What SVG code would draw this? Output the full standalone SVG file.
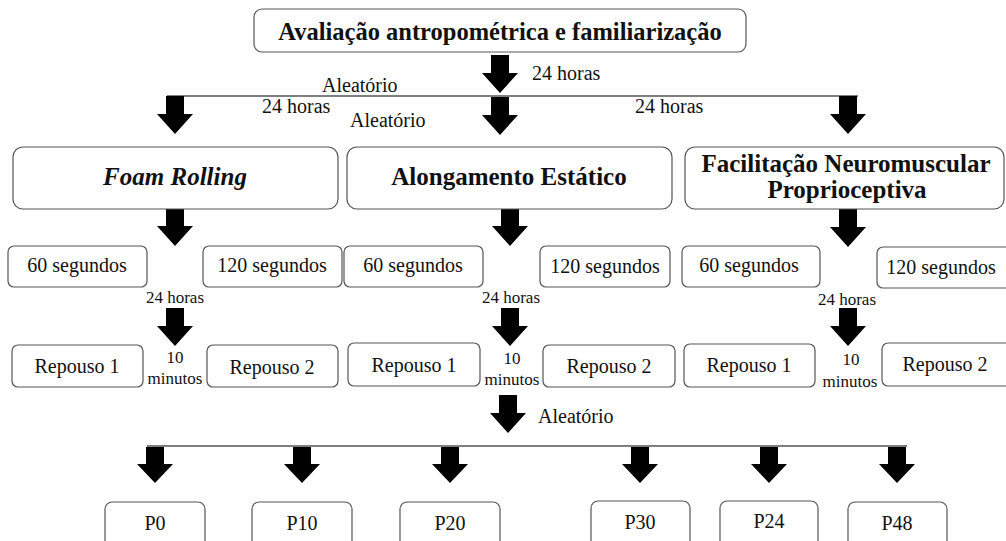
<svg xmlns="http://www.w3.org/2000/svg" xmlns:xlink="http://www.w3.org/1999/xlink" width="1006" height="541" viewBox="0 0 1006 541" font-family="'Liberation Serif', 'DejaVu Serif', 'Times New Roman', serif">
<style>
text{font-family:'Liberation Serif','DejaVu Serif','Times New Roman',serif;fill:#111}
.box{fill:#fff;stroke:#555;stroke-width:1.2}
.big{font-size:25px;font-weight:bold}
.lbl{font-size:20px}
.sm{font-size:17px}
.ln{stroke:#555;stroke-width:1.3;fill:none}
</style>
<defs>
<path id="arr" d="M-9,0 H9 V18 H18 L0,38 L-18,18 H-9 Z" fill="#000"/>
<path id="arrs" d="M-9,0 H9 V17 H18 L0,36 L-18,17 H-9 Z" fill="#000"/>
</defs>

<g id="connectors">
<line class="ln" x1="167" y1="96" x2="858" y2="96"/>
<line class="ln" x1="147" y1="446" x2="907" y2="446"/>
<use xlink:href="#arr" x="500" y="55"/>
<use xlink:href="#arr" x="175" y="96"/>
<use xlink:href="#arr" x="500" y="97"/>
<use xlink:href="#arr" x="848" y="96"/>
<use xlink:href="#arr" x="175" y="208"/>
<use xlink:href="#arr" x="510" y="208"/>
<use xlink:href="#arr" x="848" y="209"/>
<use xlink:href="#arr" x="175" y="308"/>
<use xlink:href="#arr" x="510" y="308"/>
<use xlink:href="#arr" x="848" y="308"/>
<use xlink:href="#arr" x="508" y="395"/>
<use xlink:href="#arrs" x="155" y="447"/>
<use xlink:href="#arrs" x="302" y="447"/>
<use xlink:href="#arrs" x="450" y="447"/>
<use xlink:href="#arrs" x="640" y="447"/>
<use xlink:href="#arrs" x="769" y="447"/>
<use xlink:href="#arrs" x="897" y="447"/>
<text class="lbl" x="532" y="80">24 horas</text>
<text class="lbl" x="322" y="92">Aleatório</text>
<text class="lbl" x="262" y="113">24 horas</text>
<text class="lbl" x="350" y="127">Aleatório</text>
<text class="lbl" x="635" y="113">24 horas</text>
<text class="sm" x="175" y="303" text-anchor="middle">24 horas</text>
<text class="sm" x="511" y="303" text-anchor="middle">24 horas</text>
<text class="sm" x="847" y="305" text-anchor="middle">24 horas</text>
<text class="sm" x="175" y="363" text-anchor="middle">10</text>
<text class="sm" x="175" y="384" text-anchor="middle">minutos</text>
<text class="sm" x="512" y="364" text-anchor="middle">10</text>
<text class="sm" x="512" y="385" text-anchor="middle">minutos</text>
<text class="sm" x="851" y="365" text-anchor="middle">10</text>
<text class="sm" x="850" y="387" text-anchor="middle">minutos</text>
<text class="lbl" x="538" y="423">Aleatório</text>
</g>

<g id="n-top">
<rect class="box" x="254" y="9" width="492" height="43" rx="8"/>
<text x="500" y="40" text-anchor="middle" style="font-size:24.5px;font-weight:bold">Avaliação antropométrica e familiarização</text>
</g>

<g id="n-fr">
<rect class="box" x="13" y="147" width="325" height="62" rx="10"/>
<text class="big" x="175" y="185" text-anchor="middle" font-style="italic">Foam Rolling</text>
</g>
<g id="n-ae">
<rect class="box" x="347" y="147" width="325" height="62" rx="10"/>
<text class="big" x="509" y="185" text-anchor="middle">Alongamento Estático</text>
</g>
<g id="n-fnp">
<rect class="box" x="685" y="147" width="319" height="62" rx="10"/>
<text class="big" x="846" y="172" text-anchor="middle">Facilitação Neuromuscular</text>
<text class="big" x="847" y="198" text-anchor="middle">Proprioceptiva</text>
</g>

<g id="n-fr60"><rect class="box" x="8" y="246" width="139" height="41" rx="6"/><text class="lbl" x="77" y="272" text-anchor="middle">60 segundos</text></g>
<g id="n-fr120"><rect class="box" x="203" y="246" width="139" height="41" rx="6"/><text class="lbl" x="272" y="272" text-anchor="middle">120 segundos</text></g>
<g id="n-ae60"><rect class="box" x="344" y="246" width="139" height="41" rx="6"/><text class="lbl" x="413" y="272" text-anchor="middle">60 segundos</text></g>
<g id="n-ae120"><rect class="box" x="540" y="246" width="130" height="41" rx="6"/><text class="lbl" x="605" y="273" text-anchor="middle">120 segundos</text></g>
<g id="n-fnp60"><rect class="box" x="682" y="246" width="138" height="41" rx="6"/><text class="lbl" x="749" y="272" text-anchor="middle">60 segundos</text></g>
<g id="n-fnp120"><rect class="box" x="877" y="247" width="140" height="41" rx="6"/><text class="lbl" x="941" y="274" text-anchor="middle">120 segundos</text></g>

<g id="n-fr-r1"><rect class="box" x="12" y="345" width="131" height="42" rx="6"/><text class="lbl" x="77" y="373" text-anchor="middle">Repouso 1</text></g>
<g id="n-fr-r2"><rect class="box" x="207" y="345" width="131" height="42" rx="6"/><text class="lbl" x="272" y="374" text-anchor="middle">Repouso 2</text></g>
<g id="n-ae-r1"><rect class="box" x="348" y="343" width="132" height="43" rx="6"/><text class="lbl" x="414" y="372" text-anchor="middle">Repouso 1</text></g>
<g id="n-ae-r2"><rect class="box" x="543" y="345" width="132" height="42" rx="6"/><text class="lbl" x="609" y="373" text-anchor="middle">Repouso 2</text></g>
<g id="n-fnp-r1"><rect class="box" x="684" y="344" width="131" height="43" rx="6"/><text class="lbl" x="749" y="372" text-anchor="middle">Repouso 1</text></g>
<g id="n-fnp-r2"><rect class="box" x="882" y="343" width="140" height="43" rx="6"/><text class="lbl" x="945" y="371" text-anchor="middle">Repouso 2</text></g>

<g id="n-p0"><rect class="box" x="105" y="502" width="100" height="50" rx="7"/><text class="lbl" x="155" y="530" text-anchor="middle">P0</text></g>
<g id="n-p10"><rect class="box" x="252" y="502" width="100" height="50" rx="7"/><text class="lbl" x="302" y="530" text-anchor="middle">P10</text></g>
<g id="n-p20"><rect class="box" x="400" y="502" width="100" height="50" rx="7"/><text class="lbl" x="450" y="530" text-anchor="middle">P20</text></g>
<g id="n-p30"><rect class="box" x="591" y="501" width="99" height="50" rx="7"/><text class="lbl" x="640" y="529" text-anchor="middle">P30</text></g>
<g id="n-p24"><rect class="box" x="720" y="501" width="98" height="50" rx="7"/><text class="lbl" x="769" y="528" text-anchor="middle">P24</text></g>
<g id="n-p48"><rect class="box" x="848" y="502" width="99" height="50" rx="7"/><text class="lbl" x="897" y="530" text-anchor="middle">P48</text></g>
</svg>
